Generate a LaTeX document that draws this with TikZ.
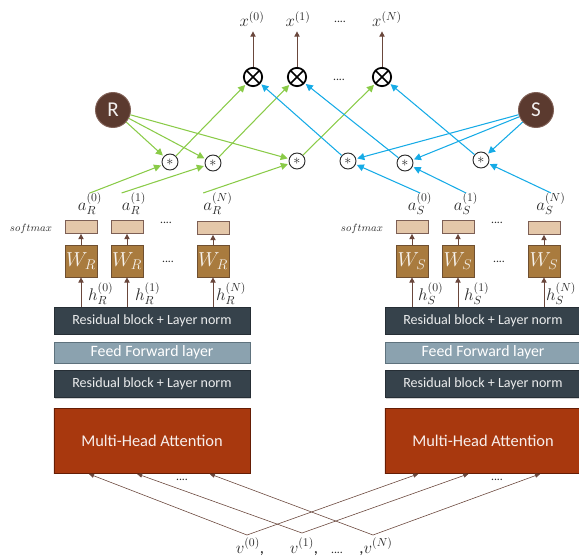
\documentclass[tikz,border=0pt]{standalone}
\usepackage{fontspec}
\setmainfont{Carlito}
\usetikzlibrary{arrows.meta,shadows,calc,positioning}

\definecolor{slate}{HTML}{36424B}
\definecolor{steel}{HTML}{8BA2AF}
\definecolor{steelline}{HTML}{5E727D}
\definecolor{rustlight}{HTML}{A8380E}
\definecolor{rustdark}{HTML}{7E2406}
\definecolor{bronze}{HTML}{A97B3E}
\definecolor{bronzeline}{HTML}{6F4F30}
\definecolor{sand}{HTML}{E4C7A9}
\definecolor{sandline}{HTML}{7D5F55}
\definecolor{cocoa}{HTML}{5B3A2F}
\definecolor{cocoaline}{HTML}{806056}
\definecolor{stembrown}{HTML}{6A473C}
\definecolor{leaf}{HTML}{8ACB48}
\definecolor{sky}{HTML}{16ABE6}
\definecolor{ink}{HTML}{2B2B2B}

\begin{document}
\begin{tikzpicture}[x=0.03cm, y=-0.03cm, font=\small]
     \tikzstyle{resblock}=[fill=slate, draw=slate!70!black, text=white!90!slate, minimum width=5.88cm, minimum height=0.81cm, inner sep=0pt, font=\fontsize{12}{12}\selectfont, drop shadow={opacity=0.35, shadow xshift=1.2pt, shadow yshift=-1.2pt}]
     \tikzstyle{ffblock}=[resblock, fill=steel, draw=steelline, text=white, minimum height=0.63cm, font=\fontsize{13.5}{13.5}\selectfont]
     \tikzstyle{mhablock}=[resblock, left color=rustlight, middle color=rustdark, right color=rustlight, draw=rustdark!80!black, text=white!92!rustlight, minimum height=1.95cm, font=\fontsize{14}{14}\selectfont]
     \tikzstyle{wbox}=[fill=bronze, draw=bronzeline, line width=0.6pt, text=white!90!bronze, minimum size=0.96cm, inner sep=0pt, font=\fontsize{17}{17}\selectfont, drop shadow={opacity=0.3, shadow xshift=0.8pt, shadow yshift=-0.8pt}]
     \tikzstyle{smbox}=[fill=sand, draw=sandline, line width=0.6pt, minimum width=0.96cm, minimum height=0.39cm, inner sep=0pt, drop shadow={opacity=0.3, shadow xshift=0.8pt, shadow yshift=-0.8pt}]
     \tikzstyle{headnode}=[circle, fill=cocoa, draw=cocoaline, line width=0.8pt, minimum size=1.05cm, inner sep=0pt, text=white!92!cocoa, font=\fontsize{18}{18}\selectfont]
     \tikzstyle{prodnode}=[circle, draw=ink, line width=0.8pt, minimum size=0.48cm, inner sep=0pt, text=ink, font=\large]
     \tikzstyle{mulnode}=[circle, draw=black, line width=1.5pt, minimum size=0.55cm, inner sep=0pt,
       path picture={\draw[line width=1.5pt] ([shift={(-0.2cm,-0.2cm)}]path picture bounding box.center) -- ([shift={(0.2cm,0.2cm)}]path picture bounding box.center);
                     \draw[line width=1.5pt] ([shift={(-0.2cm,0.2cm)}]path picture bounding box.center) -- ([shift={(0.2cm,-0.2cm)}]path picture bounding box.center);}]
     \tikzstyle{mathlabel}=[text=ink, inner sep=0pt, font=\fontsize{14.4}{14.4}\selectfont]
     \tikzstyle{dots}=[text=ink, inner sep=0pt, font=\normalsize]
     \tikzstyle{stem}=[draw=stembrown, line width=0.8pt, -{Triangle[length=4.5pt,width=4.5pt]}]
     \tikzstyle{feed}=[draw=stembrown, line width=0.5pt, -{Triangle[length=4.5pt,width=3.5pt]}, shorten >=1.5pt]
     \tikzstyle{rpath}=[draw=leaf, line width=0.9pt, -{Triangle[length=6pt,width=6pt]}, shorten >=1pt]
     \tikzstyle{spath}=[rpath, draw=sky]

     \useasboundingbox (0,0) rectangle (579,557);

     % encoder stacks
     \node[resblock] (resL1) at (152,320.5) {Residual block + Layer norm};
     \node[ffblock] (ffL) at (152,352.5) {Feed Forward layer};
     \node[resblock] (resL2) at (152,384) {Residual block + Layer norm};
     \node[mhablock] (mhaL) at (152,440.5) {Multi-Head Attention};

     \node[resblock] (resR1) at (483,320.5) {Residual block + Layer norm};
     \node[ffblock] (ffR) at (483,352.5) {Feed Forward layer};
     \node[resblock] (resR2) at (483,384) {Residual block + Layer norm};
     \node[mhablock] (mhaR) at (483,440.5) {Multi-Head Attention};

     % R heads
     \node[wbox] (wR0) at (81,261) {$W_R$};
     \node[wbox] (wR1) at (127,261) {$W_R$};
     \node[wbox] (wRN) at (213,261) {$W_R$};
     \node[smbox] (smR0) at (81,227) {};
     \node[smbox] (smR1) at (127,227) {};
     \node[smbox] (smRN) at (213,228) {};
     \node[dots] at (166,223) {....};
     \node[dots] at (168,262) {....};
     \node[mathlabel, font=\small] (smaxR) at (31,229) {$softmax$};
     \node[mathlabel] (aR0) at (90,204) {$a_R^{(0)}$};
     \node[mathlabel] (aR1) at (134,204) {$a_R^{(1)}$};
     \node[mathlabel] (aRN) at (218,204) {$a_R^{(N)}$};
     \node[mathlabel, anchor=west] (hR0) at (88,294) {$h_R^{(0)}$};
     \node[mathlabel, anchor=west] (hR1) at (135,294) {$h_R^{(1)}$};
     \node[mathlabel, anchor=west] (hRN) at (216,294) {$h_R^{(N)}$};

     % S heads
     \node[wbox] (wS0) at (412,261) {$W_S$};
     \node[wbox] (wS1) at (458,261) {$W_S$};
     \node[wbox] (wSN) at (544,261) {$W_S$};
     \node[smbox] (smS0) at (412,227) {};
     \node[smbox] (smS1) at (458,227) {};
     \node[smbox] (smSN) at (544,228) {};
     \node[dots] at (497,223) {....};
     \node[dots] at (499,262) {....};
     \node[mathlabel, font=\small] (smaxS) at (362,229) {$softmax$};
     \node[mathlabel] (aS0) at (420,204) {$a_S^{(0)}$};
     \node[mathlabel] (aS1) at (466,204) {$a_S^{(1)}$};
     \node[mathlabel] (aSN) at (551,204) {$a_S^{(N)}$};
     \node[mathlabel, anchor=west] (hS0) at (418,294) {$h_S^{(0)}$};
     \node[mathlabel, anchor=west] (hS1) at (464,294) {$h_S^{(1)}$};
     \node[mathlabel, anchor=west] (hSN) at (546,294) {$h_S^{(N)}$};

     \draw[stem] (wR0.south |- resL1.north) -- (wR0);
     \draw[stem] (wR1.south |- resL1.north) -- (wR1);
     \draw[stem] (wRN.south |- resL1.north) -- (wRN);
     \draw[stem] (wR0) -- (smR0);
     \draw[stem] (wR1) -- (smR1);
     \draw[stem] (wRN) -- (smRN);
     \draw[stem] (wS0.south |- resR1.north) -- (wS0);
     \draw[stem] (wS1.south |- resR1.north) -- (wS1);
     \draw[stem] (wSN.south |- resR1.north) -- (wSN);
     \draw[stem] (wS0) -- (smS0);
     \draw[stem] (wS1) -- (smS1);
     \draw[stem] (wSN) -- (smSN);

     % weighting and combination
     \node[headnode] (R) at (113,110) {R};
     \node[headnode] (S) at (536,110) {S};
     \node[prodnode] (pR0) at (170,162) {$*$};
     \node[prodnode] (pR1) at (213,163) {$*$};
     \node[prodnode] (pRN) at (297,161) {$*$};
     \node[prodnode] (pS0) at (348,161) {$*$};
     \node[prodnode] (pS1) at (405,163) {$*$};
     \node[prodnode] (pSN) at (481,160) {$*$};
     \node[mulnode] (m0) at (253,77) {};
     \node[mulnode] (m1) at (297,77) {};
     \node[mulnode] (mN) at (382,77) {};
     \node[dots] at (339,80) {....};
     \node[mathlabel] (x0) at (252,19) {$x^{(0)}$};
     \node[mathlabel] (x1) at (298,19) {$x^{(1)}$};
     \node[mathlabel] (xN) at (387,19) {$x^{(N)}$};
     \node[dots] at (340,22) {....};

     \draw[rpath] (R) -- (pR0);
     \draw[rpath] (R) -- (pR1);
     \draw[rpath] (R) -- (pRN);
     \draw[rpath] (aR0.north) -- (pR0);
     \draw[rpath] (aR1.north west) -- (pR1);
     \draw[rpath] (aRN.north west) -- (pRN);
     \draw[rpath] (pR0) -- (m0);
     \draw[rpath] (pR1) -- (m1);
     \draw[rpath] (pRN) -- (mN);

     \draw[spath] (S) -- (pS0);
     \draw[spath] (S) -- (pS1);
     \draw[spath] (S) -- (pSN);
     \draw[spath] (aS0.north) -- (pS0);
     \draw[spath] (aS1.north) -- (pS1);
     \draw[spath] (aSN.north) -- (pSN);
     \draw[spath] (pS0) -- (m0);
     \draw[spath] (pS1) -- (m1);
     \draw[spath] (pSN) -- (mN);

     \draw[stem, shorten >=4pt] (m0) -- (m0 |- x0.south);
     \draw[stem, shorten >=4pt] (m1) -- (m1 |- x1.south);
     \draw[stem, shorten >=4pt] (mN) -- (mN |- xN.south);

     % shared inputs
     \node[mathlabel, anchor=base] (v0) at (250,553) {$v^{(0)}$,};
     \node[mathlabel, anchor=base] (v1) at (304,553) {$v^{(1)}$,};
     \node[dots, anchor=base] (vdots) at (337,553) {....};
     \node[mathlabel, anchor=base] (vN) at (376,553) {,$v^{(N)}$};
     \coordinate (v0top) at (247,535);
     \coordinate (v1top) at (302,533);
     \coordinate (vNtop) at (373,535);
     \node[dots] at (182,480) {....};
     \node[dots] at (497,480) {....};

     \draw[feed] (v0top) -- ($(mhaL.south west)!0.17!(mhaL.south east)$);
     \draw[feed] (v1top) -- ($(mhaL.south west)!0.415!(mhaL.south east)$);
     \draw[feed] (vNtop) -- ($(mhaL.south west)!0.785!(mhaL.south east)$);
     \draw[feed] (v0top) -- ($(mhaR.south west)!0.18!(mhaR.south east)$);
     \draw[feed] (v1top) -- ($(mhaR.south west)!0.435!(mhaR.south east)$);
     \draw[feed] (vNtop) -- ($(mhaR.south west)!0.80!(mhaR.south east)$);
\end{tikzpicture}
\end{document}
